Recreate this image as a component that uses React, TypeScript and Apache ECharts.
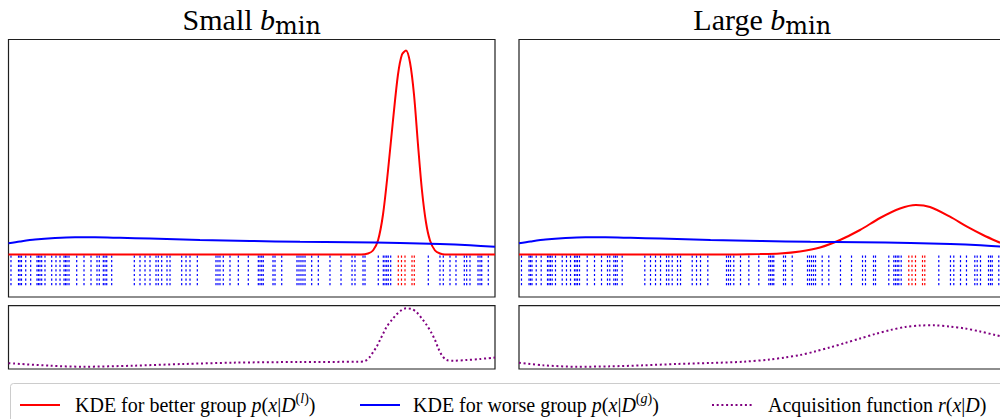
import React, { useEffect, useRef } from "react";
import * as echarts from "echarts";

// ---- text ----
const titleTexts = ["Small {i|b}{sub|min}", "Large {i|b}{sub|min}"];
const legendTexts = [
  "{r|KDE for better group }{i|p}{r|(}{i|x}{r||}{i|D}{sup|(}{supi|l}{sup|)}{r|)}",
  "{r|KDE for worse group }{i|p}{r|(}{i|x}{r||}{i|D}{sup|(}{supi|g}{sup|)}{r|)}",
  "{r|Acquisition function }{i|r}{r|(}{i|x}{r||}{i|D}{r|)}",
];

// ---- rug observations (x in 0..100) ----
const rugBlueX = [
  0.51, 2.06, 2.36, 2.67, 3.54, 4.56, 5.86, 6.17, 6.47, 6.82, 7.5, 8.88, 9.76,
  10.59, 11.41, 11.72, 12.02, 12.44, 14.02, 15.52, 16.96, 18.19, 18.66, 19.49,
  19.84, 20.19, 21.21, 25.86, 27.03, 28.06, 29.09, 30.32, 30.79, 31.49, 32.58,
  33.2, 35.6, 36.49, 37.31, 38.81, 42.65, 43.06, 43.47, 44.15, 45.53, 47.24,
  49.29, 51.35, 51.7, 52.05, 52.37, 54.37, 54.78, 56.16, 59.3, 59.71, 60.12,
  60.53, 60.95, 62.32, 63.68, 66.08, 68.35, 70.61, 71.22, 72.87, 73.28, 76.01,
  77.04, 77.39, 77.74, 78.07, 78.56, 86.29, 88.69, 89.37, 90.75, 91.98, 93.69,
  94.18, 94.86, 96.51, 96.92, 97.27, 98.62,
];
const rugRedX = [80.12, 80.78, 81.5, 82.94, 83.41];

// ---- KDE of worse group (same in both panels) ----
const blueX = [0, 2.36, 5.45, 9.56, 13.67, 17.78, 22.92, 29.09, 39.36, 49.64, 59.92, 70.19, 80.47, 88.69, 94.86, 100];
const blueY = [0.056, 0.065, 0.075, 0.0825, 0.086, 0.086, 0.0835, 0.08, 0.0725, 0.0675, 0.0635, 0.061, 0.0575, 0.0525, 0.046, 0.039];

// ---- KDE of better group ----
const redSmallX = [0, 72.5, 73.9, 74.92, 75.95, 76.98, 78.01, 79.03, 80.06, 80.88, 81.71, 82.53, 83.35, 84.17, 84.99, 85.82, 86.64, 87.67, 88.69, 89.72, 100];
const redSmallY = [0, 0, 0.005, 0.02, 0.07, 0.2, 0.42, 0.67, 0.9, 1.0, 1.02, 0.96, 0.8, 0.55, 0.32, 0.16, 0.07, 0.02, 0.005, 0, 0];
const redLargeX = [0, 40, 49.5, 53.65, 57.76, 61.87, 65.98, 70.09, 74.2, 78.31, 81.6, 84.48, 88.59, 92.09, 95.38, 98.87, 100];
const redLargeY = [0, 0, 0.002, 0.005, 0.015, 0.035, 0.0725, 0.1225, 0.1825, 0.23, 0.2475, 0.2375, 0.189, 0.139, 0.0975, 0.059, 0.0475];

// ---- acquisition function ----
const acqSmallX = [0, 8.53, 15.31, 25.59, 35.87, 46.15, 59.92, 72.05, 73.28, 74.31, 74.99, 75.68, 76.36, 77.04, 77.74, 78.77, 79.79, 80.82, 81.71, 82.88, 83.9, 84.93, 85.96, 86.99, 87.67, 88.35, 89.04, 90.07, 91.43, 94.18, 96.92, 100];
const acqSmallY = [0.092, 0.052, 0.036, 0.052, 0.079, 0.1, 0.111, 0.115, 0.126, 0.194, 0.273, 0.352, 0.458, 0.564, 0.668, 0.774, 0.864, 0.932, 0.959, 0.948, 0.896, 0.801, 0.695, 0.564, 0.458, 0.327, 0.221, 0.142, 0.131, 0.142, 0.158, 0.182];
const acqLargeX = [0, 5.0, 11.86, 18.7, 25.55, 32.4, 39.26, 46.1, 51.6, 54.7, 57.8, 60.8, 63.9, 67.0, 70.1, 73.2, 76.3, 79.4, 82.4, 85.5, 88.6, 91.7, 94.8, 97.9, 100];
const acqLargeY = [0.1, 0.058, 0.036, 0.042, 0.058, 0.079, 0.095, 0.115, 0.15, 0.182, 0.221, 0.276, 0.34, 0.41, 0.482, 0.553, 0.616, 0.664, 0.687, 0.69, 0.671, 0.64, 0.592, 0.537, 0.498];

const RED = "#ff0000";
const BLUE = "#0000ff";
const PURPLE = "#800080";
const SERIF = "Liberation Serif";

const pairs = (xs: number[], ys: number[]) => xs.map((x, i) => [x, ys[i]]);

const RUG_TOP = -0.005;
const RUG_BOTTOM = -0.1575;

function rugSeries(xs: number[], color: string, axis: number, name: string) {
  return {
    type: "custom",
    name,
    xAxisIndex: axis,
    yAxisIndex: axis,
    silent: true,
    data: xs.map((x) => [x, 0]),
    encode: { x: 0, y: 1 },
    renderItem: (_p: any, api: any) => {
      const a = api.coord([api.value(0), RUG_TOP]);
      const b = api.coord([api.value(0), RUG_BOTTOM]);
      return {
        type: "line",
        shape: { x1: a[0], y1: a[1], x2: b[0], y2: b[1] },
        style: { stroke: color, lineWidth: 1.2, lineDash: [2.2, 2.4] },
      };
    },
  };
}

function lineSeries(name: string, data: number[][], color: string, axis: number, dotted = false) {
  return {
    type: "line",
    name,
    xAxisIndex: axis,
    yAxisIndex: axis,
    data,
    showSymbol: false,
    smooth: 0.3,
    silent: true,
    lineStyle: dotted
      ? { color, width: 2, type: [2, 2.7] }
      : { color, width: 2 },
  };
}

export default function App() {
  const ref = useRef<HTMLDivElement>(null);
  useEffect(() => {
    if (!ref.current) return;
    const chart = echarts.init(ref.current, null, { renderer: "svg" });
    const panelLeft = [8.5, 519];
    const PW = 486.5;
    const gridBase = { show: true, borderColor: "#1f1f1f", borderWidth: 1.2, backgroundColor: "#fff" };
    const grids: any[] = [];
    panelLeft.forEach((l) => {
      grids.push({ ...gridBase, left: l, top: 39.5, width: PW, height: 257.5 });
      grids.push({ ...gridBase, left: l, top: 305.7, width: PW, height: 63.3 });
    });
    const xAxes = grids.map((_, i) => ({ type: "value", gridIndex: i, min: 0, max: 100, show: false }));
    const yAxes = grids.map((_, i) =>
      i % 2 === 0
        ? { type: "value", gridIndex: i, min: -0.2125, max: 1.075, show: false }
        : { type: "value", gridIndex: i, min: 0, max: 1, show: false }
    );
    const titleRich = {
      r: { fontFamily: SERIF, fontSize: 30, lineHeight: 38, color: "#000" },
      i: { fontFamily: SERIF, fontStyle: "italic", fontSize: 30, lineHeight: 38, color: "#000" },
      sub: { fontFamily: "DejaVu Serif", fontSize: 24, lineHeight: 24, verticalAlign: "bottom", color: "#000" },
    };
    const legendRich = {
      r: { fontFamily: SERIF, fontSize: 20, lineHeight: 28, fill: "#000" },
      i: { fontFamily: SERIF, fontStyle: "italic", fontSize: 20, lineHeight: 28, fill: "#000" },
      sup: { fontFamily: SERIF, fontSize: 14, lineHeight: 14, verticalAlign: "top", fill: "#000" },
      supi: { fontFamily: SERIF, fontStyle: "italic", fontSize: 14, lineHeight: 14, verticalAlign: "top", fill: "#000" },
    };
    const legendItems = [
      { x1: 20, tx: 75, color: RED, dash: null },
      { x1: 360, tx: 413, color: BLUE, dash: null },
      { x1: 712, tx: 768, color: PURPLE, dash: [2, 2.7] },
    ];
    const graphic: any[] = [
      {
        type: "rect",
        shape: { x: 10.5, y: 383.5, width: 1010, height: 60, r: 3 },
        style: { fill: "#fff", stroke: "#cccccc", lineWidth: 1 },
        z: 10,
      },
    ];
    legendItems.forEach((it, k) => {
      graphic.push({
        type: "line",
        shape: { x1: it.x1, y1: 405, x2: it.x1 + 40, y2: 405 },
        style: { stroke: it.color, lineWidth: 2, lineDash: it.dash || undefined },
        z: 11,
      });
      graphic.push({
        type: "text",
        x: it.tx,
        y: 405,
        z: 11,
        style: {
          text: legendTexts[k],
          font: "20px 'Liberation Serif'",
          fontFamily: SERIF,
          fontSize: 20,
          lineHeight: 28,
          fill: "#000",
          verticalAlign: "middle",
          align: "left",
          rich: legendRich,
        },
      });
    });

    const option: any = {
      animation: false,
      backgroundColor: "#fff",
      title: panelLeft.map((l, k) => ({
        text: titleTexts[k],
        left: l + PW / 2,
        top: 0,
        padding: 0,
        textAlign: "center",
        textStyle: {
          fontFamily: SERIF,
          fontWeight: "normal",
          fontSize: 30,
          lineHeight: 38,
          color: "#000",
          rich: titleRich,
        },
      })),
      grid: grids,
      xAxis: xAxes,
      yAxis: yAxes,
      graphic,
      series: [
        lineSeries("KDE better (small)", pairs(redSmallX, redSmallY), RED, 0),
        lineSeries("KDE worse (small)", pairs(blueX, blueY), BLUE, 0),
        rugSeries(rugBlueX, BLUE, 0, "worse obs (small)"),
        rugSeries(rugRedX, RED, 0, "better obs (small)"),
        lineSeries("Acquisition (small)", pairs(acqSmallX, acqSmallY), PURPLE, 1, true),
        lineSeries("KDE better (large)", pairs(redLargeX, redLargeY), RED, 2),
        lineSeries("KDE worse (large)", pairs(blueX, blueY), BLUE, 2),
        rugSeries(rugBlueX, BLUE, 2, "worse obs (large)"),
        rugSeries(rugRedX, RED, 2, "better obs (large)"),
        lineSeries("Acquisition (large)", pairs(acqLargeX, acqLargeY), PURPLE, 3, true),
      ],
    };
    chart.setOption(option);
    return () => chart.dispose();
  }, []);
  return (
    <div
      style={{
        position: "fixed",
        left: 0,
        top: 0,
        width: 1000,
        height: 419,
        overflow: "hidden",
        background: "#fff",
      }}
    >
      <div ref={ref} style={{ width: 1024, height: 440 }} />
    </div>
  );
}
